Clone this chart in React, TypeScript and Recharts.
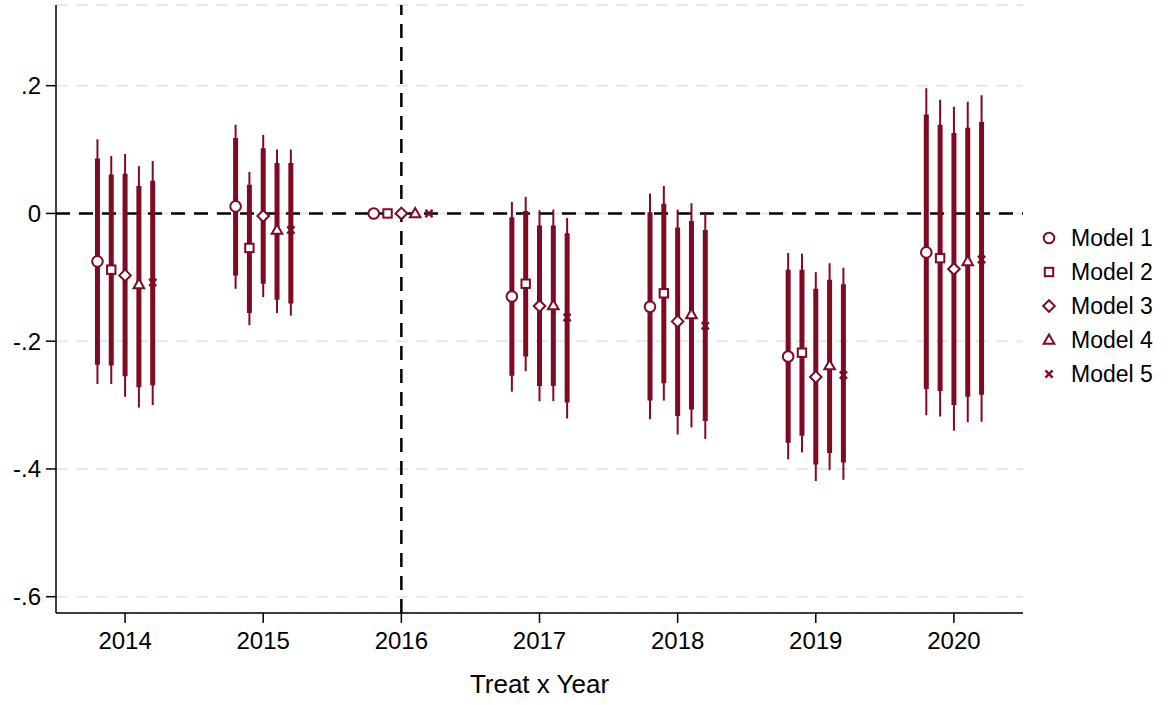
import { ScatterChart, Scatter, XAxis, YAxis, CartesianGrid, ReferenceLine, ErrorBar } from "recharts";

const RED = "#7f0a24";
const FONT = '"Liberation Sans", Arial, Helvetica, sans-serif';

const years = [2014, 2015, 2016, 2017, 2018, 2019, 2020];
const yTicks = [-0.6, -0.4, -0.2, 0, 0.2];
const modelNames = ["Model 1", "Model 2", "Model 3", "Model 4", "Model 5"];
const offsets = [-0.2, -0.1, 0, 0.1, 0.2];
const markerKinds = ["circle", "square", "diamond", "triangle", "cross"];

type Ci = [number, number] | null;

// point estimates, 95% (thin) and 90% (thick) intervals; 2016 is the base year
const model1Coef = [-0.075, 0.011, 0, -0.13, -0.146, -0.224, -0.061];
const model1Ci95: Ci[] = [[-0.267, 0.116], [-0.118, 0.139], null, [-0.279, 0.018], [-0.322, 0.031], [-0.385, -0.062], [-0.316, 0.196]];
const model1Ci90: Ci[] = [[-0.237, 0.086], [-0.097, 0.118], null, [-0.254, -0.006], [-0.293, 0.002], [-0.359, -0.088], [-0.275, 0.155]];

const model2Coef = [-0.088, -0.054, 0, -0.11, -0.125, -0.218, -0.07];
const model2Ci95: Ci[] = [[-0.267, 0.09], [-0.175, 0.065], null, [-0.247, 0.026], [-0.293, 0.043], [-0.374, -0.063], [-0.318, 0.178]];
const model2Ci90: Ci[] = [[-0.238, 0.061], [-0.156, 0.045], null, [-0.224, 0.004], [-0.266, 0.015], [-0.348, -0.088], [-0.278, 0.139]];

const model3Coef = [-0.097, -0.004, 0, -0.145, -0.169, -0.256, -0.087];
const model3Ci95: Ci[] = [[-0.287, 0.093], [-0.131, 0.123], null, [-0.294, 0.005], [-0.346, 0.006], [-0.419, -0.092], [-0.34, 0.167]];
const model3Ci90: Ci[] = [[-0.255, 0.062], [-0.11, 0.102], null, [-0.27, -0.019], [-0.317, -0.022], [-0.393, -0.118], [-0.3, 0.126]];

const model4Coef = [-0.111, -0.026, 0, -0.144, -0.158, -0.238, -0.075];
const model4Ci95: Ci[] = [[-0.304, 0.074], [-0.156, 0.1], null, [-0.294, 0.006], [-0.335, 0.016], [-0.402, -0.078], [-0.327, 0.175]];
const model4Ci90: Ci[] = [[-0.272, 0.043], [-0.135, 0.079], null, [-0.27, -0.019], [-0.307, -0.012], [-0.375, -0.104], [-0.287, 0.134]];

const model5Coef = [-0.108, -0.026, 0, -0.163, -0.176, -0.253, -0.072];
const model5Ci95: Ci[] = [[-0.3, 0.082], [-0.16, 0.1], null, [-0.321, -0.007], [-0.353, 0.002], [-0.417, -0.085], [-0.326, 0.185]];
const model5Ci90: Ci[] = [[-0.269, 0.051], [-0.141, 0.079], null, [-0.296, -0.031], [-0.325, -0.026], [-0.39, -0.111], [-0.284, 0.143]];

const coefs = [model1Coef, model2Coef, model3Coef, model4Coef, model5Coef];
const ci95s = [model1Ci95, model2Ci95, model3Ci95, model4Ci95, model5Ci95];
const ci90s = [model1Ci90, model2Ci90, model3Ci90, model4Ci90, model5Ci90];

const toErr = (c: number, ci: Ci) => (ci ? [c - ci[0], ci[1] - c] : [0, 0]);

const seriesData = coefs.map((coef, m) =>
  years.map((yr, i) => ({
    x: yr + offsets[m],
    y: coef[i],
    e95: toErr(coef[i], ci95s[m][i]),
    e90: toErr(coef[i], ci90s[m][i]),
  }))
);

const Marker = ({ kind, cx, cy }: { kind: string; cx: number; cy: number }) => {
  const common = { fill: "#fff", stroke: RED, strokeWidth: 2 };
  if (kind === "circle") return <circle cx={cx} cy={cy} r={5.3} {...common} />;
  if (kind === "square") return <rect x={cx - 4.2} y={cy - 4.2} width={8.4} height={8.4} {...common} />;
  if (kind === "diamond")
    return <polygon points={`${cx},${cy - 5.8} ${cx + 5.8},${cy} ${cx},${cy + 5.8} ${cx - 5.8},${cy}`} {...common} />;
  if (kind === "triangle")
    return <polygon points={`${cx},${cy - 5.5} ${cx + 5.3},${cy + 3.8} ${cx - 5.3},${cy + 3.8}`} {...common} />;
  return (
    <g stroke={RED} strokeWidth={2.4}>
      <line x1={cx - 3.6} y1={cy - 3.6} x2={cx + 3.6} y2={cy + 3.6} />
      <line x1={cx - 3.6} y1={cy + 3.6} x2={cx + 3.6} y2={cy - 3.6} />
    </g>
  );
};

const fmtY = (v: number) => (v === 0 ? "0" : v.toFixed(1).replace("0.", "."));

export default function App() {
  return (
    <div style={{ position: "absolute", left: 0, top: 0, width: 1175, height: 705, background: "#fff" }}>
      <ScatterChart width={1175} height={705} margin={{ top: 5, right: 152, bottom: 0, left: 0 }}>
        <CartesianGrid vertical={false} stroke="#e8e8e8" strokeWidth={2} strokeDasharray="12 8" />
        <XAxis
          type="number"
          dataKey="x"
          domain={[2013.5, 2020.5]}
          ticks={years}
          tickFormatter={(v) => String(v)}
          height={92}
          tickSize={10}
          tickMargin={9}
          axisLine={{ stroke: "#000", strokeWidth: 1.5 }}
          tickLine={{ stroke: "#000", strokeWidth: 1.5 }}
          tick={{ fill: "#000", fontSize: 24, fontFamily: FONT }}
          label={{ value: "Treat x Year", position: "insideBottom", offset: 12, fill: "#000", fontSize: 26, fontFamily: FONT }}
        />
        <YAxis
          type="number"
          dataKey="y"
          domain={[-0.6255, 0.3263]}
          ticks={yTicks}
          tickFormatter={fmtY}
          width={56}
          tickSize={10}
          tickMargin={5}
          axisLine={{ stroke: "#000", strokeWidth: 1.5 }}
          tickLine={{ stroke: "#000", strokeWidth: 1.5 }}
          tick={{ fill: "#000", fontSize: 24, fontFamily: FONT }}
        />
        <ReferenceLine y={0} stroke="#000" strokeWidth={2.5} strokeDasharray="14 9" />
        <ReferenceLine x={2016} stroke="#000" strokeWidth={2.5} strokeDasharray="14 9" />
        {seriesData.map((data, m) => (
          <Scatter
            key={modelNames[m]}
            name={modelNames[m]}
            data={data}
            isAnimationActive={false}
            shape={(p: any) => <Marker kind={markerKinds[m]} cx={p.cx} cy={p.cy} />}
          >
            <ErrorBar dataKey="e95" direction="y" width={0} stroke={RED} strokeWidth={2} isAnimationActive={false} />
            <ErrorBar dataKey="e90" direction="y" width={0} stroke={RED} strokeWidth={5} isAnimationActive={false} />
          </Scatter>
        ))}
      </ScatterChart>
      <div style={{ position: "absolute", left: 1040, top: 221, fontFamily: FONT, fontSize: 23, color: "#000" }}>
        {modelNames.map((name, m) => (
          <div key={name} style={{ display: "flex", alignItems: "center", height: 34 }}>
            <svg width={18} height={18} style={{ marginRight: 13 }}>
              <Marker kind={markerKinds[m]} cx={9} cy={9} />
            </svg>
            <span>{name}</span>
          </div>
        ))}
      </div>
    </div>
  );
}
